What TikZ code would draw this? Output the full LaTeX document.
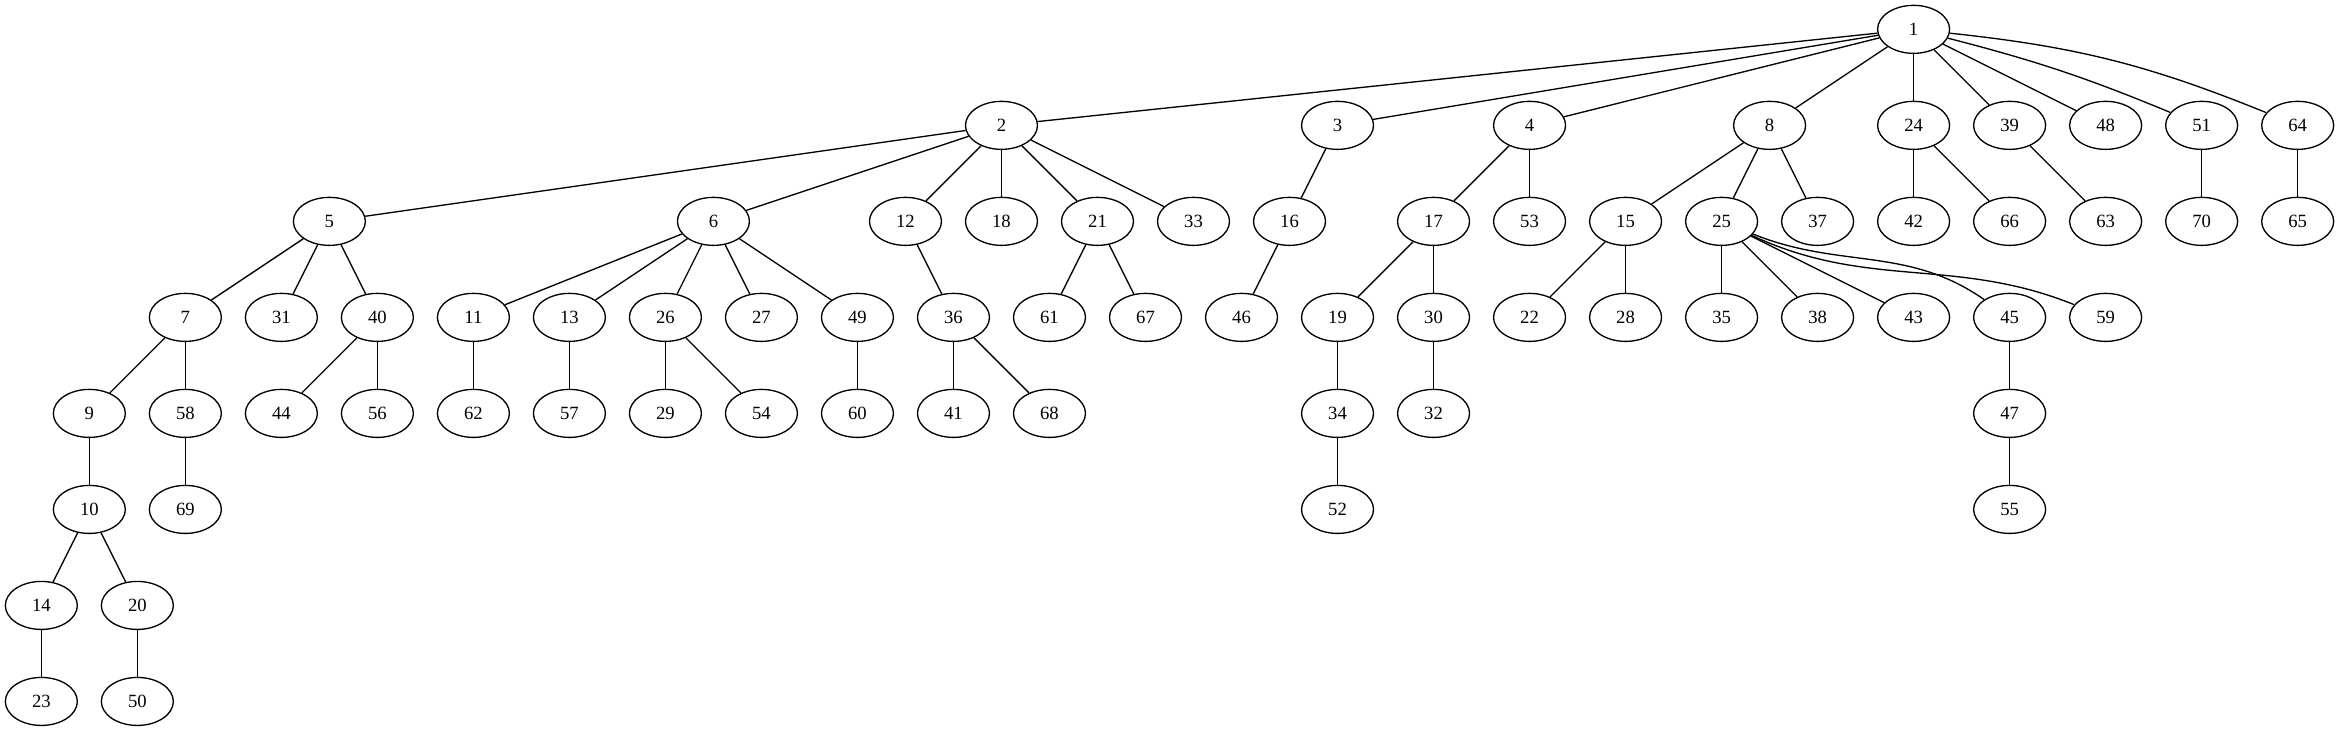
\documentclass[tikz,border=0pt]{standalone}
\usepackage{fontspec}
\setmainfont{Liberation Serif}
\usetikzlibrary{shapes.geometric}

\begin{document}
\begin{tikzpicture}[
vertex/.style={
  draw,
  ellipse,
  line width=1pt,
  minimum width=54pt,
  minimum height=36pt,
  inner sep=0pt,
  font=\fontsize{14pt}{16pt}\selectfont
  },
edge/.style={
  line width=1pt
  },
x=36pt,
y=72pt
]
\useasboundingbox (-0.8611,0.3056) rectangle (47.8611,-7.3056);

% nodes: name/column/rank
\foreach \n/\c/\r in {1/39/0,
  2/20/1, 3/27/1, 4/31/1, 8/36/1, 24/39/1, 39/41/1, 48/43/1, 51/45/1, 64/47/1,
  5/6/2, 6/14/2, 12/18/2, 18/20/2, 21/22/2, 33/24/2, 16/26/2, 17/29/2, 53/31/2,
  15/33/2, 25/35/2, 37/37/2, 42/39/2, 66/41/2, 63/43/2, 70/45/2, 65/47/2,
  7/3/3, 31/5/3, 40/7/3, 11/9/3, 13/11/3, 26/13/3, 27/15/3, 49/17/3, 36/19/3,
  61/21/3, 67/23/3, 46/25/3, 19/27/3, 30/29/3, 22/31/3, 28/33/3, 35/35/3,
  38/37/3, 43/39/3, 45/41/3, 59/43/3,
  9/1/4, 58/3/4, 44/5/4, 56/7/4, 62/9/4, 57/11/4, 29/13/4, 54/15/4, 60/17/4,
  41/19/4, 68/21/4, 34/27/4, 32/29/4, 47/41/4,
  10/1/5, 69/3/5, 52/27/5, 55/41/5,
  14/0/6, 20/2/6,
  23/0/7, 50/2/7}
  \node[vertex] (n\n) at (\c,-\r) {\n};

% straight edges
\foreach \a/\b in {1/2, 1/3, 1/4, 1/8, 1/24, 1/39, 1/48,
  2/5, 2/6, 2/12, 2/18, 2/21, 2/33, 3/16, 4/17, 4/53, 8/15, 8/25, 8/37,
  24/42, 24/66, 39/63, 51/70, 64/65,
  5/7, 5/31, 5/40, 6/11, 6/13, 6/26, 6/27, 6/49, 12/36, 21/61, 21/67,
  16/46, 17/19, 17/30, 15/22, 15/28, 25/35, 25/38, 25/43,
  7/9, 7/58, 40/44, 40/56, 11/62, 13/57, 26/29, 26/54, 49/60, 36/41, 36/68,
  19/34, 30/32, 45/47, 9/10, 58/69, 34/52, 47/55,
  10/14, 10/20, 14/23, 20/50}
  \draw[edge] (n\a) -- (n\b);

% curved edges
\draw[edge] (n1) to[bend left=8] (n64);
\draw[edge] (n1) to[bend left=4] (n51);
\draw[edge] (n25) to[out=-25,in=158] (n59);
\draw[edge] (n25) to[out=-22,in=145] (n45);
\end{tikzpicture}
\end{document}
